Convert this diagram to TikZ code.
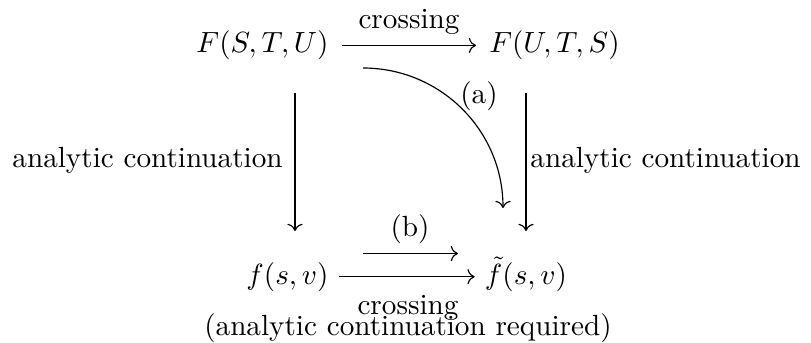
\documentclass[tikz,border=0pt]{standalone}
\usetikzlibrary{cd}
\begin{document}
\begin{tikzpicture}[x=0.3425pt,y=-0.3425pt,
  obj/.style={anchor=base,inner sep=3.33pt},
  lbl/.style={anchor=base,inner sep=0pt},
  arr/.style={-cm to,line width=0.4pt}]
\useasboundingbox (0,0) rectangle (811,342);
% objects
\node[obj] (A) at (262.5,52.7) {$F(S,T,U)$};
\node[obj] (B) at (554.5,52.7) {$F(U,T,S)$};
\node[obj] (C) at (287.5,284) {$f(s,v)$};
\node[obj] (D) at (526,284) {$\tilde{f}(s,v)$};
% labels
\node[lbl] (cr1) at (409,28.5) {crossing};
\node[lbl] (cr2) at (408,314) {crossing};
\node[lbl] (req) at (408,335.5) {(analytic continuation required)};
\node[lbl] (acl) at (147.5,167) {analytic continuation};
\node[lbl] (acr) at (665.5,167) {analytic continuation};
\node[lbl] (la) at (479,103) {(a)};
\node[lbl] (lb) at (410,236) {(b)};
% connector end points
\coordinate (l1) at (295,93);
\coordinate (l2) at (295,231);
\coordinate (r1) at (526,93);
\coordinate (r2) at (526,231);
\coordinate (a1) at (363,68);
\coordinate (a2) at (503,208);
\coordinate (b1) at (363,253.5);
\coordinate (b2) at (458,253.5);
% connectors
\draw[arr,shorten <=1pt,shorten >=1pt] (A.east) -- (B.west);
\draw[arr] (C.east) -- (C.east -| D.west);
\draw[arr] (l1) -- (l2);
\draw[arr] (r1) -- (r2);
\draw[arr] (a1) to[out=0,in=90] (a2);
\draw[arr] (b1) -- (b2);
\end{tikzpicture}
\end{document}
